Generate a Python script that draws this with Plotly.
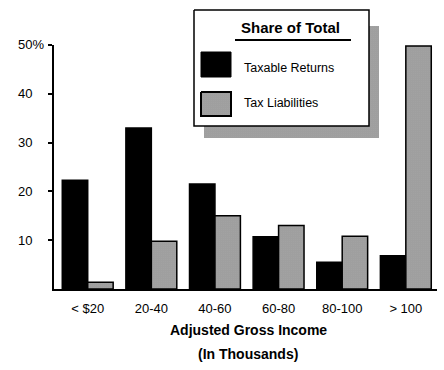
import plotly.graph_objects as go

categories = ["< $20", "20-40", "40-60", "60-80", "80-100", "> 100"]
taxable_returns = [22.3, 33.0, 21.5, 10.7, 5.5, 6.8]
tax_liabilities = [1.4, 9.8, 15.0, 13.0, 10.8, 49.8]
ytick_vals = [10, 20, 30, 40, 50]
ytick_text = ["10", "20", "30", "40", "50%"]

W, H = 444, 370
FONT = "Liberation Sans, Arial, sans-serif"
pattern = dict(shape=".", size=2, solidity=0.75, fgcolor="black", bgcolor="white")

fig = go.Figure()
fig.add_trace(go.Bar(x=categories, y=taxable_returns, name="Taxable Returns",
                     marker=dict(color="black", line=dict(color="black", width=1.5)),
                     showlegend=False))
fig.add_trace(go.Bar(x=categories, y=tax_liabilities, name="Tax Liabilities",
                     marker=dict(color="white", pattern=pattern,
                                 line=dict(color="black", width=1.5)),
                     showlegend=False))

# Legend box drawn in pixel coordinates on an overlay subplot
def rect(x0, y0, x1, y1, **kw):
    fig.add_trace(go.Scatter(x=[x0, x1, x1, x0, x0], y=[y0, y0, y1, y1, y0],
                             mode="lines", fill="toself", xaxis="x2", yaxis="y2",
                             showlegend=False, hoverinfo="skip", **kw))

rect(204, 26, 379, 138, line=dict(width=0, color="rgba(0,0,0,0)"),
     fillcolor="white", fillpattern=pattern)
rect(194, 10, 369, 126, line=dict(width=1.5, color="black"), fillcolor="white")
rect(201, 52, 231, 77, line=dict(width=1, color="black"), fillcolor="black")
rect(201, 92, 231, 116, line=dict(width=2, color="black"),
     fillcolor="white", fillpattern=pattern)
fig.add_trace(go.Scatter(x=[235, 351], y=[40, 40], mode="lines", xaxis="x2", yaxis="y2",
                         line=dict(color="black", width=2), showlegend=False,
                         hoverinfo="skip"))

ann = [
    dict(x=290, y=27, text="<b>Share of Total</b>", xanchor="center", font_size=15),
    dict(x=242, y=68, text="Taxable Returns", xanchor="left", font_size=12.5),
    dict(x=242, y=103, text="Tax Liabilities", xanchor="left", font_size=12.5),
    dict(x=248, y=330, text="<b>Adjusted Gross Income</b>", xanchor="center", font_size=14),
    dict(x=248, y=354, text="<b>(In Thousands)</b>", xanchor="center", font_size=14),
]
annotations = [dict(xref="x2", yref="y2", yanchor="middle", showarrow=False,
                    font=dict(family=FONT, color="black", size=a.pop("font_size")), **a)
               for a in ann]
for v, t in zip(ytick_vals, ytick_text):
    annotations.append(dict(xref="x2", yref="y", x=16, y=v, text=t, xanchor="left",
                            yanchor="middle", showarrow=False,
                            font=dict(family=FONT, color="black", size=13)))

fig.update_layout(
    width=W, height=H,
    margin=dict(l=0, r=0, t=0, b=0),
    paper_bgcolor="white", plot_bgcolor="rgba(0,0,0,0)",
    barmode="group", bargap=0.2, bargroupgap=0,
    font=dict(family=FONT, color="black", size=13),
    xaxis=dict(domain=[54 / W, 437 / W], range=[-0.53, 5.49], showline=True,
               linewidth=2, linecolor="black", ticks="", showgrid=False,
               zeroline=False, tickfont=dict(size=13, color="black"),
               ticklabelstandoff=6, fixedrange=True),
    yaxis=dict(domain=[81 / H, 325 / H], range=[0, 50], showline=True,
               linewidth=2, linecolor="black", ticks="outside", ticklen=4,
               tickwidth=2, tickcolor="black", tickvals=ytick_vals,
               showticklabels=False, showgrid=False, zeroline=False, fixedrange=True),
    xaxis2=dict(domain=[0, 1], range=[0, W], visible=False, anchor="y2", fixedrange=True),
    yaxis2=dict(domain=[0, 1], range=[H, 0], visible=False, anchor="x2", fixedrange=True),
    annotations=annotations,
)

fig.write_html("out.html", config={"displayModeBar": False},
               post_script="document.body.style.margin='0';document.body.style.overflow='hidden';")
